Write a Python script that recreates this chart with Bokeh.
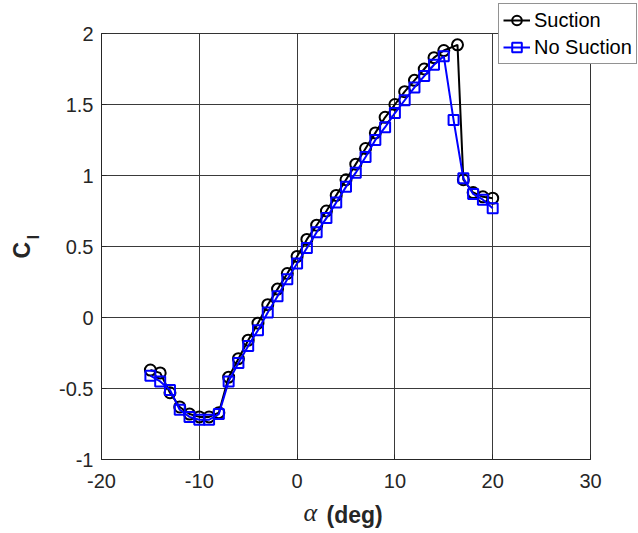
from bokeh.plotting import figure
from bokeh.models import (Label, Legend, LegendItem, FixedTicker, BoxAnnotation,
                          CustomJSTickFormatter, Range1d)
from bokeh.embed import file_html
from bokeh.resources import INLINE

# ---- data -------------------------------------------------------------
alpha_suction = [-15, -14, -13, -12, -11, -10, -9, -8, -7, -6, -5, -4, -3, -2,
                 -1, 0, 1, 2, 3, 4, 5, 6, 7, 8, 9, 10, 11, 12, 13, 14, 15,
                 16.4, 17, 18, 19, 20]
cl_suction = [-0.37, -0.39, -0.53, -0.63, -0.68, -0.70, -0.70, -0.67, -0.42,
              -0.29, -0.16, -0.04, 0.09, 0.20, 0.31, 0.43, 0.55, 0.65, 0.75,
              0.86, 0.97, 1.08, 1.19, 1.30, 1.41, 1.50, 1.59, 1.67, 1.75, 1.83,
              1.88, 1.92, 0.97, 0.88, 0.85, 0.84]

alpha_nosuction = [-15, -14, -13, -12, -11, -10, -9, -8, -7, -6, -5, -4, -3,
                   -2, -1, 0, 1, 2, 3, 4, 5, 6, 7, 8, 9, 10, 11, 12, 13, 14,
                   15, 16, 17, 18, 19, 20]
cl_nosuction = [-0.41, -0.45, -0.51, -0.65, -0.70, -0.72, -0.72, -0.68, -0.45,
                -0.32, -0.20, -0.09, 0.035, 0.15, 0.27, 0.38, 0.49, 0.60, 0.70,
                0.81, 0.92, 1.02, 1.13, 1.25, 1.34, 1.44, 1.53, 1.62, 1.70,
                1.78, 1.84, 1.39, 0.98, 0.87, 0.83, 0.77]

x_ticks = [-20, -10, 0, 10, 20, 30]
y_ticks = [-1, -0.5, 0, 0.5, 1, 1.5, 2]
series_labels = ["Suction", "No Suction"]

FONT = "Liberation Sans"
INK = "#262626"

W, H = 638, 533
# axes box in canvas pixels (left, right, top, bottom)
BL, BR, BT, BB = 101, 590, 33, 459
xmin, xmax = x_ticks[0], x_ticks[-1]
ymin, ymax = y_ticks[0], y_ticks[-1]
sx = (BR - BL) / (xmax - xmin)
sy = (BB - BT) / (ymax - ymin)

p = figure(width=W, height=H, output_backend="svg", toolbar_location=None,
           x_range=Range1d(xmin - BL / sx, xmax + (W - BR) / sx),
           y_range=Range1d(ymin - (H - BB) / sy, ymax + BT / sy),
           min_border=0, min_border_left=0, min_border_right=0,
           min_border_top=0, min_border_bottom=0)
p.background_fill_color = "white"
p.border_fill_color = "white"
p.outline_line_color = None

fmt = CustomJSTickFormatter(code="return String(tick);")
xa, ya = p.xaxis[0], p.yaxis[0]
xa.fixed_location = ymin
ya.fixed_location = xmin
xa.bounds = (xmin, xmax)
ya.bounds = (ymin, ymax)
for ax, ticks in ((xa, x_ticks), (ya, y_ticks)):
    ax.ticker = FixedTicker(ticks=ticks)
    ax.formatter = fmt
    ax.axis_label = None
    ax.axis_line_color = INK
    ax.major_tick_line_color = INK
    ax.major_tick_in = 5
    ax.major_tick_out = 0
    ax.minor_tick_line_color = None
    ax.major_label_text_font = FONT
    ax.major_label_text_font_size = "20px"
    ax.major_label_text_color = INK
xa.major_label_standoff = 14
ya.major_label_standoff = 8

xg, yg = p.xgrid[0], p.ygrid[0]
xg.ticker = FixedTicker(ticks=x_ticks)
yg.ticker = FixedTicker(ticks=y_ticks)
xg.bounds = (xmin, xmax)
yg.bounds = (ymin, ymax)
xg.cross_bounds = (ymin, ymax)
yg.cross_bounds = (xmin, xmax)
for g in (xg, yg):
    g.grid_line_color = "#3a3a3a"
    g.grid_line_width = 1

p.add_layout(BoxAnnotation(left=xmin, right=xmax, bottom=ymin, top=ymax,
                           fill_alpha=0, fill_color=None,
                           line_color=INK, line_width=1, level="underlay"))

# ---- series -----------------------------------------------------------
ls = p.line(alpha_suction, cl_suction, line_color="black", line_width=2)
ms = p.scatter(alpha_suction, cl_suction, marker="circle", size=11,
               line_color="black", line_width=2, fill_color=None)
ln = p.line(alpha_nosuction, cl_nosuction, line_color="#0000ff", line_width=2)
mn = p.scatter(alpha_nosuction, cl_nosuction, marker="square", size=10,
               line_color="#0000ff", line_width=2, fill_color=None)

legend = Legend(items=[LegendItem(label=series_labels[0], renderers=[ls, ms]),
                       LegendItem(label=series_labels[1], renderers=[ln, mn])],
                location=(498, H - 64))
legend.label_text_font = FONT
legend.label_text_font_size = "20px"
legend.label_text_color = "black"
legend.glyph_width = 27
legend.glyph_height = 24
legend.label_height = 24
legend.label_standoff = 4
legend.padding = 4
legend.spacing = 3
legend.margin = 0
legend.border_line_color = INK
legend.border_line_width = 1
legend.background_fill_color = "white"
legend.background_fill_alpha = 1
p.add_layout(legend, "center")

# ---- axis titles ------------------------------------------------------
p.add_layout(Label(x=303, y=H - 512, x_units="screen", y_units="screen",
                   text="\u03b1",
                   text_font="Liberation Serif", text_font_style="italic",
                   text_font_size="26px", text_color=INK,
                   text_baseline="alphabetic", text_align="left"))
p.add_layout(Label(x=326, y=H - 514, x_units="screen", y_units="screen",
                   text="(deg)",
                   text_font=FONT, text_font_style="bold",
                   text_font_size="23px", text_color=INK,
                   text_baseline="alphabetic", text_align="left"))
p.add_layout(Label(x=21, y=H - 258, x_units="screen", y_units="screen",
                   text="C",
                   angle=1.5708, text_font=FONT, text_font_style="bold",
                   text_font_size="23px", text_color=INK,
                   text_baseline="alphabetic", text_align="left"))
p.add_layout(Label(x=33, y=H - 239, x_units="screen", y_units="screen",
                   text="l",
                   angle=1.5708, text_font=FONT, text_font_style="bold",
                   text_font_size="17px", text_color=INK,
                   text_baseline="alphabetic", text_align="left"))

open("out.html", "w", encoding="utf-8").write(file_html(p, INLINE))
